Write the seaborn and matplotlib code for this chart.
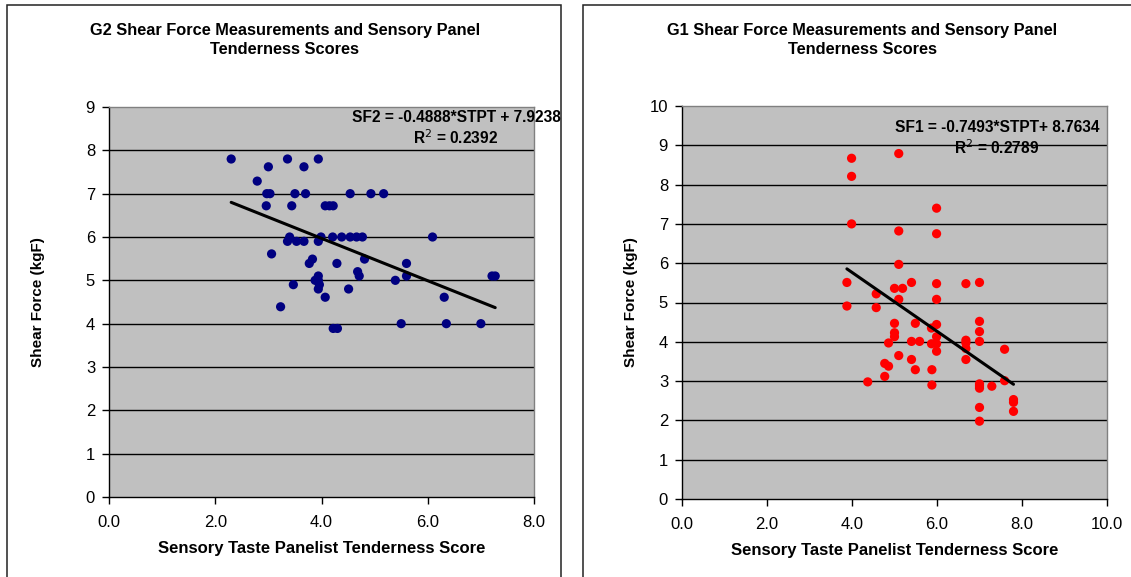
import matplotlib
matplotlib.use("Agg")
import matplotlib.pyplot as plt
from matplotlib import font_manager
from matplotlib.patches import Rectangle
import numpy as np
import pandas as pd
import seaborn as sns

# ---- G2 carcasses: panel tenderness score vs. shear force ----
g2_score = [2.30, 3.00, 3.36, 3.67, 3.94, 2.79, 2.97, 3.03, 3.50, 3.70,
            4.54, 4.93, 5.17, 2.96, 3.44, 4.07, 4.15, 4.22, 3.40, 3.99,
            4.21, 4.38, 4.54, 4.66, 4.77, 6.09, 3.36, 3.53, 3.67, 3.94,
            3.06, 3.83, 3.77, 4.29, 4.81, 5.60, 4.68, 4.71, 3.94, 3.88,
            3.94, 3.96, 3.94, 3.47, 4.51, 4.07, 3.23, 5.39, 5.60, 6.31,
            7.21, 7.27, 5.50, 6.35, 7.00, 4.22, 4.30]
g2_force = [7.80, 7.62, 7.80, 7.62, 7.80, 7.29, 7.00, 7.00, 7.00, 7.00,
            7.00, 7.00, 7.00, 6.72, 6.72, 6.72, 6.72, 6.72, 6.00, 6.00,
            6.00, 6.00, 6.00, 6.00, 6.00, 6.00, 5.90, 5.90, 5.90, 5.90,
            5.61, 5.49, 5.39, 5.39, 5.49, 5.39, 5.20, 5.10, 5.10, 5.00,
            5.00, 4.90, 4.80, 4.90, 4.80, 4.61, 4.39, 5.00, 5.10, 4.61,
            5.10, 5.10, 4.00, 4.00, 4.00, 3.89, 3.89]
g2_slope, g2_intercept, g2_r2 = -0.4888, 7.9238, 0.2392

# ---- G1 carcasses ----
g1_score = [3.99, 3.99, 3.99, 5.10, 5.10, 5.10, 5.99, 5.99, 3.88, 5.00,
            5.19, 5.40, 5.99, 6.68, 7.00, 4.57, 5.10, 5.99, 3.88, 4.57,
            5.00, 5.49, 7.00, 5.99, 5.87, 7.00, 5.00, 5.00, 5.99, 6.68,
            6.68, 7.00, 5.40, 5.59, 4.86, 5.87, 5.99, 6.68, 5.99, 7.59,
            5.10, 5.40, 6.68, 4.77, 4.86, 5.49, 5.88, 4.77, 4.37, 7.59,
            5.88, 7.00, 7.00, 7.00, 7.29, 7.80, 7.80, 7.80, 7.00, 7.00]
g1_force = [8.67, 8.21, 7.00, 8.79, 6.82, 5.97, 7.40, 6.75, 5.51, 5.36,
            5.36, 5.51, 5.48, 5.48, 5.51, 5.22, 5.08, 5.08, 4.91, 4.87,
            4.47, 4.47, 4.52, 4.44, 4.35, 4.26, 4.23, 4.13, 4.13, 4.04,
            3.97, 4.01, 4.01, 4.01, 3.97, 3.95, 3.95, 3.83, 3.76, 3.81,
            3.65, 3.55, 3.55, 3.45, 3.38, 3.29, 3.29, 3.12, 2.98, 3.01,
            2.90, 2.93, 2.88, 2.82, 2.87, 2.53, 2.46, 2.23, 2.33, 1.98]
g1_slope, g1_intercept, g1_r2 = -0.7493, 8.7634, 0.2789

g2_xticks = [0, 2, 4, 6, 8]
g2_yticks = list(range(0, 10))
g1_xticks = [0, 2, 4, 6, 8, 10]
g1_yticks = list(range(0, 11))

sns.set_style("white")
available = {f.name for f in font_manager.fontManager.ttflist}
narrow = "Liberation Sans Narrow" if "Liberation Sans Narrow" in available else "Liberation Sans"
plt.rcParams["font.family"] = ["Liberation Sans", "DejaVu Sans"]
plt.rcParams["text.color"] = "black"
plt.rcParams["axes.labelcolor"] = "black"
plt.rcParams["xtick.color"] = "black"
plt.rcParams["ytick.color"] = "black"

W, H = 1131, 577
fig = plt.figure(figsize=(W / 100, H / 100), dpi=100)


def fx(px):
    return px / W


def fy(py):
    return 1 - py / H


# chart frames
for x0, x1 in [(7, 561), (583, 1140)]:
    fig.patches.append(Rectangle((fx(x0), fy(590)), fx(x1 - x0), (590 - 5) / H,
                                 transform=fig.transFigure, fill=False,
                                 edgecolor="#222222", linewidth=1.1))


def panel(rect, score, force, slope, intercept, r2, colour, name,
          xticks, yticks, title, eq_xy, ylab_x, xlab_y, title_x):
    x0, y0, x1, y1 = rect
    ax = fig.add_axes([fx(x0), fy(y1), fx(x1 - x0), (y1 - y0) / H])
    ax.set_facecolor("#C0C0C0")
    df = pd.DataFrame({"score": score, "force": force})
    sns.scatterplot(data=df, x="score", y="force", ax=ax, color=colour,
                    s=44, edgecolor="none", zorder=3)
    xs = np.array([min(score), max(score)])
    line = pd.DataFrame({"score": xs, "force": slope * xs + intercept})
    sns.lineplot(data=line, x="score", y="force", ax=ax, color="black",
                 linewidth=2.2, zorder=4)
    ax.set_xlim(xticks[0], xticks[-1])
    ax.set_ylim(yticks[0], yticks[-1])
    ax.set_xticks(xticks)
    ax.set_xticklabels([f"{t:.1f}" for t in xticks])
    ax.set_yticks(yticks)
    ax.set_yticklabels([str(t) for t in yticks])
    for t in yticks[1:-1]:
        ax.axhline(t, color="black", linewidth=1.0, zorder=1)
    ax.tick_params(axis="both", direction="out", length=5, width=1,
                   color="black", labelcolor="black", labelsize=12,
                   bottom=True, left=True)
    ax.tick_params(axis="x", pad=8)
    ax.tick_params(axis="y", pad=5)
    for s in ["left", "bottom"]:
        ax.spines[s].set_color("black")
        ax.spines[s].set_linewidth(1.0)
    for s in ["top", "right"]:
        ax.spines[s].set_color("#808080")
        ax.spines[s].set_linewidth(1.0)
    ax.set_xlabel("")
    ax.set_ylabel("")
    fig.text(fx(title_x), fy(30), title[0], ha="center", va="center",
             fontsize=11.8, fontweight="bold", family=narrow)
    fig.text(fx(title_x), fy(50), title[1], ha="center", va="center",
             fontsize=11.8, fontweight="bold", family=narrow)
    fig.text(fx(ylab_x), fy((y0 + y1) / 2), "Shear Force (kgF)", rotation=90,
             ha="center", va="center", fontsize=11, fontweight="bold",
             family=narrow)
    fig.text(fx((x0 + x1) / 2), fy(xlab_y),
             "Sensory Taste Panelist Tenderness Score", ha="center",
             va="center", fontsize=12, fontweight="bold", family=narrow)
    sign = "-" if slope < 0 else ""
    eq = f"{name} = {sign}{abs(slope):.4f}*STPT + {intercept:.4f}"
    if name == "SF1":
        eq = f"{name} = {sign}{abs(slope):.4f}*STPT+ {intercept:.4f}"
    fig.text(fx(eq_xy[0]), fy(eq_xy[1]), eq, ha="center", va="center",
             fontsize=11.2, fontweight="bold", family=narrow)
    fig.text(fx(eq_xy[0]), fy(eq_xy[1] + 21), f"R$^2$ = {r2:.4f}",
             ha="center", va="center", fontsize=11.2, fontweight="bold",
             family=narrow)
    return ax


panel((109, 107, 534, 497), g2_score, g2_force, g2_slope, g2_intercept, g2_r2,
      "#000080", "SF2", g2_xticks, g2_yticks,
      ("G2 Shear Force Measurements and Sensory Panel", "Tenderness Scores"),
      (456, 117), 38, 548, 285)
panel((682, 106, 1107, 499), g1_score, g1_force, g1_slope, g1_intercept, g1_r2,
      "#FF0000", "SF1", g1_xticks, g1_yticks,
      ("G1 Shear Force Measurements and Sensory Panel", "Tenderness Scores"),
      (997, 127), 631, 551, 862)

fig.savefig("out.png", dpi=100)
